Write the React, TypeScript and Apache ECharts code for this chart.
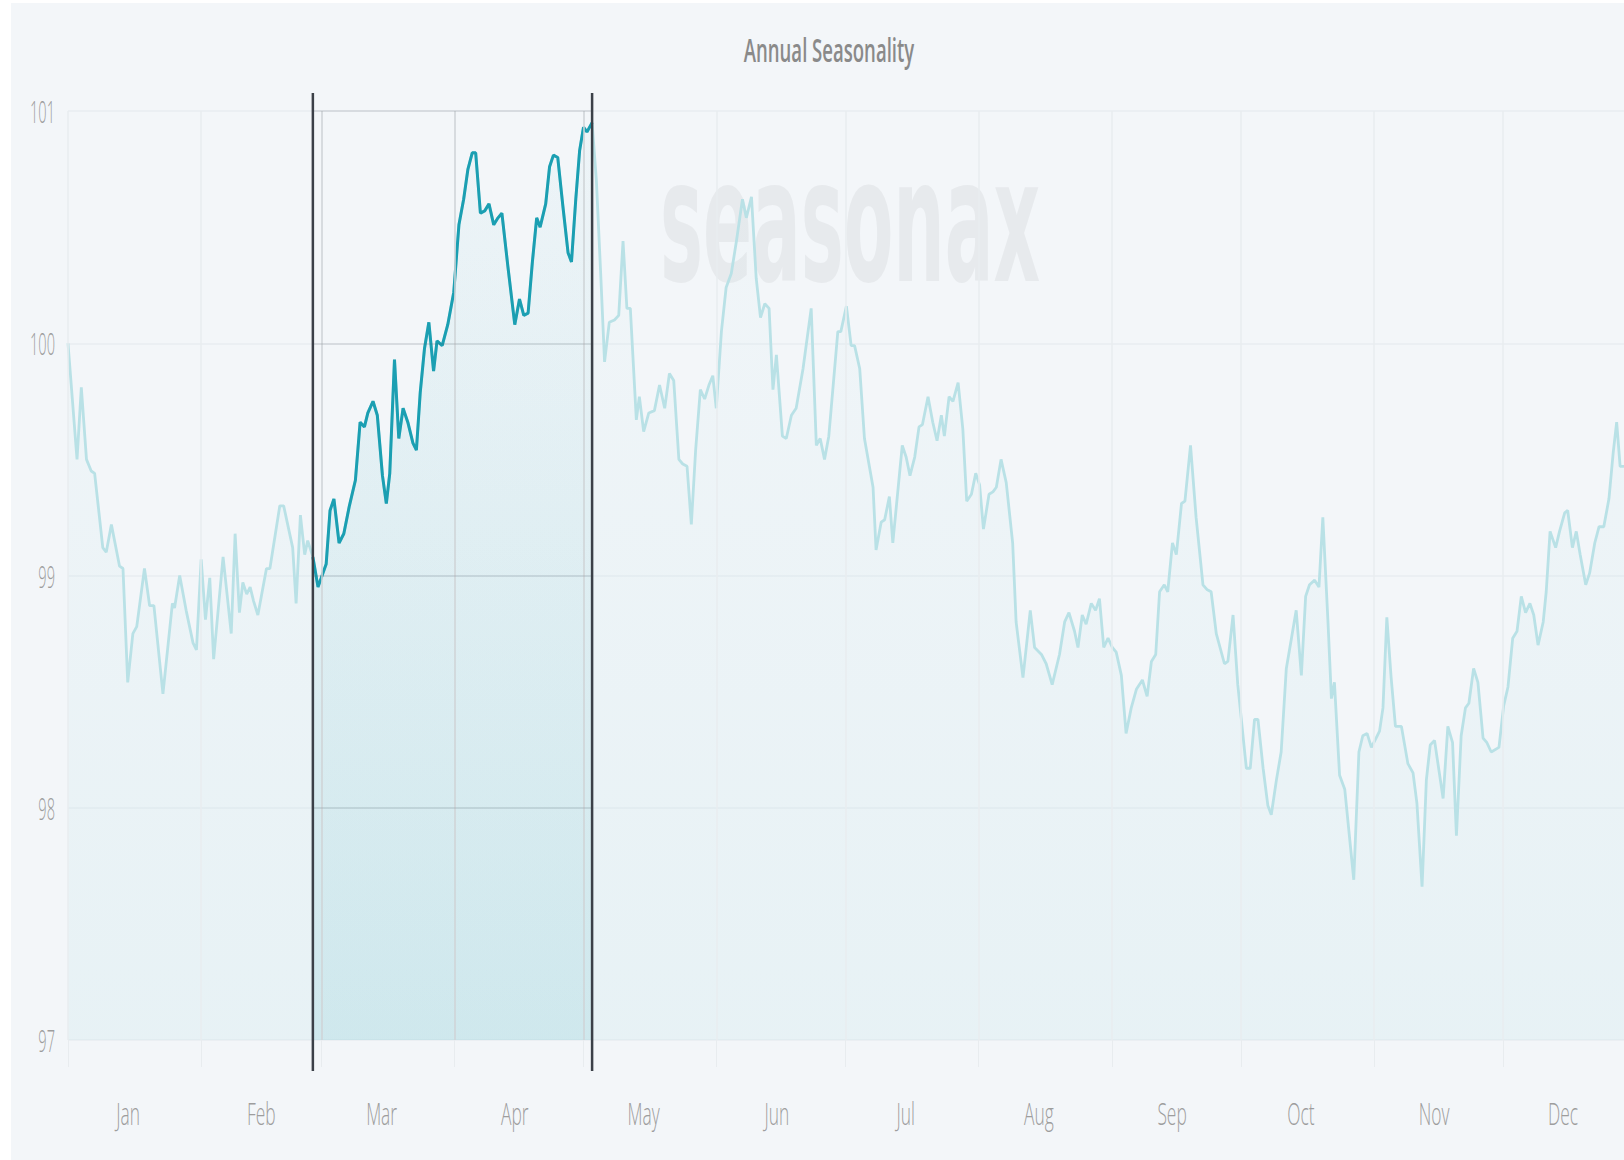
import React, { useEffect, useRef } from "react";
import * as echarts from "echarts";

const months = ["Jan", "Feb", "Mar", "Apr", "May", "Jun", "Jul", "Aug", "Sep", "Oct", "Nov", "Dec"];
const monthStarts = [0, 31, 59, 90, 120, 151, 181, 212, 243, 273, 304, 334];
const monthLabelDays = [14, 45, 73, 104, 134, 165, 195, 226, 257, 287, 318, 348];
const yTicks = [97, 98, 99, 100, 101];
const selectionStart = 57;
const selectionEnd = 122;

const days = [
  0, 2.1, 3.1, 4.3, 5.4, 6.2, 8.1, 8.9, 10.1, 12.0, 12.8, 13.9, 15.1, 16.0, 17.8, 19.0, 20.0, 22.1, 24.3, 24.8,
  26.0, 27.5, 29.1, 29.9, 31.0, 32.0, 33.0, 33.9, 36.1, 38.0, 38.9, 39.9, 40.7, 41.6, 42.4, 43.2, 44.2, 46.2, 47.0, 49.3,
  50.2, 52.3, 53.1, 54.1, 55.1, 55.8, 57.0, 58.2, 60.1, 61.0, 61.9, 63.1, 64.2, 65.5, 66.9, 68.0, 69.0, 69.8, 71.0, 72.0,
  73.2, 74.1, 74.9, 76.0, 77.0, 78.0, 79.1, 80.3, 81.1, 82.0, 83.0, 84.0, 85.1, 85.9, 87.1, 88.4, 89.8, 91.0, 92.1, 93.1,
  94.1, 94.9, 96.0, 97.0, 98.0, 99.1, 100.1, 101.0, 102.4, 104.0, 105.1, 106.1, 107.1, 108.1, 109.1, 109.9, 111.2, 112.1, 113.0, 114.0,
  115.2, 116.4, 117.2, 118.2, 119.1, 120.0, 120.8, 122.0, 123.0, 124.0, 124.9, 126.0, 127.2, 128.2, 129.2, 130.1, 130.9, 132.3, 133.0, 134.0,
  135.2, 136.5, 137.7, 138.9, 140.0, 141.0, 142.2, 143.1, 144.1, 145.1, 146.1, 147.2, 148.2, 149.2, 150.1, 150.9, 152.1, 153.2, 154.4, 155.6,
  157.0, 157.9, 159.1, 160.2, 161.2, 162.2, 163.2, 164.1, 164.9, 166.3, 167.2, 168.4, 169.5, 171.1, 173.0, 174.2, 175.1, 176.1, 177.1, 179.2,
  179.9, 181.2, 182.3, 183.1, 184.3, 185.4, 187.4, 188.1, 189.3, 190.1, 191.2, 192.0, 194.2, 195.1, 196.0, 197.1, 198.1, 198.9, 200.2, 201.3,
  202.3, 203.3, 204.0, 205.1, 206.0, 207.2, 208.3, 209.2, 210.3, 211.3, 212.2, 213.1, 214.4, 215.3, 216.1, 217.2, 218.4, 219.9, 220.7, 222.3,
  224.0, 225.0, 226.6, 227.7, 229.1, 230.8, 232.0, 233.0, 234.3, 235.1, 236.1, 237.0, 238.2, 239.2, 240.1, 241.1, 242.1, 243.1, 244.0, 245.2,
  246.3, 247.5, 248.7, 250.1, 251.2, 252.2, 253.2, 254.1, 255.2, 256.0, 257.1, 258.0, 259.2, 260.0, 261.3, 262.6, 264.2, 265.1, 266.1, 267.3,
  269.2, 270.0, 271.2, 272.3, 274.3, 275.2, 276.2, 277.0, 278.2, 279.3, 280.1, 281.3, 282.4, 283.6, 284.8, 285.9, 287.1, 288.1, 289.0, 290.2,
  291.2, 292.1, 293.3, 294.1, 294.8, 296.0, 297.2, 299.3, 300.5, 301.4, 302.4, 303.4, 304.5, 305.3, 306.1, 307.0, 308.0, 309.0, 310.4, 311.9,
  313.1, 314.0, 315.2, 316.2, 317.1, 318.1, 320.1, 321.2, 322.3, 323.2, 324.3, 325.3, 326.1, 327.2, 328.2, 329.4, 330.3, 331.3, 333.1, 334.2,
  335.2, 336.3, 337.3, 338.3, 339.3, 340.3, 341.2, 342.2, 343.4, 344.1, 345.0, 346.3, 347.2, 348.4, 349.1, 350.2, 351.1, 352.0, 353.3, 354.2,
  355.4, 356.4, 357.5, 358.7, 359.7, 360.5, 361.3, 362.2,
];

const values = [
  100.0, 99.5, 99.81, 99.5, 99.45, 99.44, 99.12, 99.1, 99.22, 99.04, 99.03, 98.54, 98.75, 98.78, 99.03, 98.87, 98.87, 98.49, 98.88, 98.86,
  99.0, 98.85, 98.71, 98.68, 99.07, 98.81, 98.99, 98.64, 99.08, 98.75, 99.18, 98.84, 98.97, 98.92, 98.95, 98.89, 98.83, 99.03, 99.03, 99.3,
  99.3, 99.12, 98.88, 99.26, 99.09, 99.15, 99.08, 98.95, 99.05, 99.28, 99.33, 99.14, 99.18, 99.3, 99.41, 99.66, 99.64, 99.7, 99.75, 99.69,
  99.43, 99.31, 99.44, 99.93, 99.59, 99.72, 99.66, 99.57, 99.54, 99.79, 99.98, 100.09, 99.88, 100.01, 99.99, 100.08, 100.22, 100.51, 100.62, 100.75,
  100.82, 100.82, 100.56, 100.57, 100.6, 100.51, 100.54, 100.56, 100.33, 100.08, 100.19, 100.12, 100.13, 100.35, 100.54, 100.5, 100.6, 100.76, 100.81, 100.8,
  100.59, 100.39, 100.35, 100.62, 100.83, 100.93, 100.91, 100.95, 100.7, 100.3, 99.92, 100.09, 100.1, 100.12, 100.44, 100.15, 100.15, 99.67, 99.77, 99.62,
  99.7, 99.71, 99.82, 99.72, 99.87, 99.84, 99.5, 99.48, 99.47, 99.22, 99.54, 99.8, 99.76, 99.82, 99.86, 99.72, 100.05, 100.24, 100.3, 100.44,
  100.62, 100.54, 100.63, 100.28, 100.11, 100.17, 100.15, 99.8, 99.95, 99.6, 99.59, 99.69, 99.72, 99.89, 100.15, 99.56, 99.59, 99.5, 99.6, 100.05,
  100.05, 100.16, 99.99, 99.99, 99.89, 99.59, 99.38, 99.11, 99.23, 99.24, 99.34, 99.14, 99.56, 99.51, 99.43, 99.51, 99.64, 99.65, 99.77, 99.66,
  99.58, 99.69, 99.6, 99.77, 99.75, 99.83, 99.63, 99.32, 99.35, 99.44, 99.39, 99.2, 99.35, 99.36, 99.38, 99.5, 99.4, 99.14, 98.8, 98.56,
  98.85, 98.69, 98.66, 98.62, 98.53, 98.66, 98.8, 98.84, 98.76, 98.69, 98.83, 98.79, 98.88, 98.85, 98.9, 98.69, 98.73, 98.69, 98.67, 98.57,
  98.32, 98.43, 98.51, 98.55, 98.48, 98.63, 98.66, 98.93, 98.96, 98.93, 99.14, 99.09, 99.31, 99.32, 99.56, 99.25, 98.96, 98.94, 98.93, 98.75,
  98.62, 98.63, 98.83, 98.53, 98.17, 98.17, 98.38, 98.38, 98.17, 98.01, 97.97, 98.12, 98.24, 98.6, 98.73, 98.85, 98.57, 98.91, 98.96, 98.98,
  98.95, 99.25, 98.8, 98.47, 98.54, 98.14, 98.08, 97.69, 98.24, 98.31, 98.32, 98.26, 98.3, 98.33, 98.43, 98.82, 98.56, 98.35, 98.35, 98.19,
  98.15, 98.02, 97.66, 98.12, 98.27, 98.29, 98.04, 98.35, 98.28, 97.88, 98.31, 98.43, 98.45, 98.6, 98.54, 98.3, 98.28, 98.24, 98.26, 98.44,
  98.52, 98.73, 98.76, 98.91, 98.84, 98.88, 98.83, 98.7, 98.8, 98.93, 99.19, 99.12, 99.19, 99.27, 99.28, 99.12, 99.19, 99.09, 98.96, 99.01,
  99.14, 99.21, 99.21, 99.33, 99.53, 99.66, 99.47, 99.47,
];

const LABEL_FONT = "300 31px 'Open Sans', 'DejaVu Sans Condensed', sans-serif";
const LABEL_COLOR = "#9d9d9d";

export default function App() {
  const ref = useRef<HTMLDivElement>(null);

  useEffect(() => {
    const el = ref.current;
    if (!el) return;
    const chart = echarts.init(el, null, { renderer: "svg" });

    const all = days.map((d, i) => [d, values[i]]);
    const sel = all.filter((p) => p[0] >= selectionStart && p[0] <= selectionEnd);
    const yMin = yTicks[0];
    const yMax = yTicks[yTicks.length - 1];

    const selGrid: any[] = [];
    yTicks.slice(1).forEach((v) => {
      selGrid.push([{ coord: [selectionStart, v] }, { coord: [selectionEnd, v] }]);
    });
    monthStarts
      .filter((d) => d > selectionStart && d < selectionEnd)
      .forEach((d) => {
        selGrid.push([{ coord: [d, yMin] }, { coord: [d, yMax] }]);
      });

    const option: any = {
      animation: false,
      backgroundColor: "#f3f6f9",
      grid: {
        left: 57,
        right: -12,
        top: 108,
        bottom: 120,
        containLabel: false,
        outerBoundsMode: "none",
      },
      xAxis: {
        type: "value",
        min: 0,
        max: 365,
        axisLine: { show: false },
        axisTick: {
          show: true,
          customValues: monthStarts,
          length: 27,
          lineStyle: { color: "#e8ecef", width: 1 },
        },
        axisLabel: { show: false },
        splitLine: { show: false },
      },
      yAxis: {
        type: "value",
        min: yMin,
        max: yMax,
        interval: 1,
        axisLine: { show: false },
        axisTick: { show: false },
        axisLabel: { show: false },
        splitLine: { show: true, lineStyle: { color: "#e9edf0", width: 1.5 } },
      },
      series: [
        {
          type: "line",
          name: "Seasonality",
          data: all,
          showSymbol: false,
          symbol: "none",
          z: 2,
          lineStyle: { color: "#b9e1e6", width: 2.8 },
          areaStyle: {
            origin: "start",
            color: {
              type: "linear",
              x: 0,
              y: 0,
              x2: 0,
              y2: 1,
              colorStops: [
                { offset: 0, color: "rgba(183,224,229,0.04)" },
                { offset: 1, color: "rgba(183,224,229,0.28)" },
              ],
            },
          },
          markLine: {
            silent: true,
            symbol: ["none", "none"],
            label: { show: false },
            lineStyle: { color: "#e8ecef", width: 1.5, type: "solid" },
            data: monthStarts.map((d) => ({ xAxis: d })),
          },
        },
        {
          type: "line",
          name: "Selected period",
          data: sel,
          showSymbol: false,
          symbol: "none",
          z: 3,
          lineStyle: { color: "#1b9fb2", width: 3 },
          areaStyle: {
            origin: "start",
            color: {
              type: "linear",
              x: 0,
              y: 0,
              x2: 0,
              y2: 1,
              colorStops: [
                { offset: 0, color: "rgba(27,160,178,0.02)" },
                { offset: 1, color: "rgba(27,160,178,0.17)" },
              ],
            },
          },
          markLine: {
            silent: true,
            symbol: ["none", "none"],
            label: { show: false },
            lineStyle: { color: "rgba(70,80,90,0.16)", width: 1.5, type: "solid" },
            data: selGrid,
          },
        },
      ],
    };

    chart.setOption(option);

    const px = (x: number, y: number) => chart.convertToPixel({ gridIndex: 0 }, [x, y]) as number[];
    const pTop = px(selectionStart, yMax);
    const pBot = px(selectionStart, yMin);
    const pEnd = px(selectionEnd, yMin);
    const y1 = pTop[1] - 18;
    const y2 = pBot[1] + 31;

    const yLabels = yTicks.map((v) => {
      const p = px(0, v);
      return {
        type: "text",
        id: "ylab" + v,
        x: p[0] - 13,
        y: p[1],
        scaleX: 0.47,
        z: 10,
        silent: true,
        style: {
          text: String(v),
          font: LABEL_FONT,
          fill: LABEL_COLOR,
          textAlign: "right",
          textVerticalAlign: "middle",
        },
      };
    });

    const xLabels = months.map((m, i) => {
      const p = px(monthLabelDays[i], yMin);
      return {
        type: "text",
        id: "xlab" + m,
        x: p[0],
        y: p[1] + 73,
        scaleX: 0.56,
        z: 10,
        silent: true,
        style: {
          text: m,
          font: LABEL_FONT,
          fill: LABEL_COLOR,
          textAlign: "center",
          textVerticalAlign: "middle",
        },
      };
    });

    chart.setOption({
      graphic: [
        {
          type: "text",
          id: "watermark",
          x: 649,
          y: 219,
          scaleX: 0.42,
          z: 0,
          silent: true,
          style: {
            text: "seasonax",
            font: "bold 172px 'DejaVu Sans'",
            fill: "#e7eaed",
            textAlign: "left",
            textVerticalAlign: "middle",
          },
        },
        {
          type: "text",
          id: "title",
          x: 818,
          y: 47,
          scaleX: 0.58,
          z: 10,
          style: {
            text: "Annual Seasonality",
            font: "600 32px 'Open Sans'",
            fill: "#8a8a8a",
            textAlign: "center",
            textVerticalAlign: "middle",
          },
        },
        ...yLabels,
        ...xLabels,
        {
          type: "line",
          id: "selStart",
          z: 10,
          silent: true,
          shape: { x1: pTop[0], y1, x2: pTop[0], y2 },
          style: { stroke: "#3b4048", lineWidth: 2.5 },
        },
        {
          type: "line",
          id: "selEnd",
          z: 10,
          silent: true,
          shape: { x1: pEnd[0], y1, x2: pEnd[0], y2 },
          style: { stroke: "#3b4048", lineWidth: 2.5 },
        },
      ],
    });

    return () => chart.dispose();
  }, []);

  return (
    <div
      ref={ref}
      style={{ position: "absolute", left: 11, top: 3, width: 1613, height: 1157 }}
    />
  );
}
